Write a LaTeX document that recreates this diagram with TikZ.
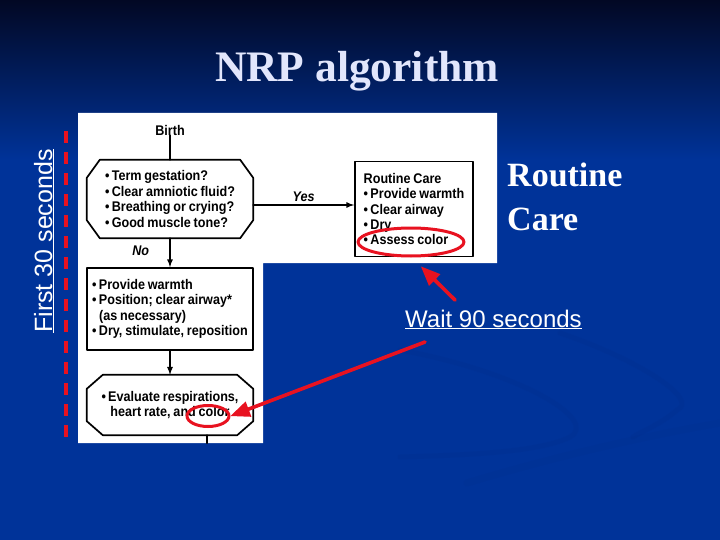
\documentclass[tikz,border=0pt]{standalone}
\usepackage{fontspec}
\setmainfont{Liberation Serif}
\newfontfamily\arialfont{Liberation Sans}
\newfontfamily\chartfont[FakeStretch=0.9,WordSpace=0.8]{Liberation Sans}
\usepackage{tikz}
\usetikzlibrary{shapes,arrows}
\usetikzlibrary{calc}
\definecolor{slideblue}{RGB}{0,51,153}
\definecolor{slidetop}{RGB}{2,8,36}
\definecolor{titlecol}{RGB}{226,230,252}
\definecolor{markred}{RGB}{232,18,32}
% outline with cut corners round a named node
\newcommand{\octoline}[3]{\draw[flow] ([xshift=#2]#1.north west) -- ([xshift=-#2]#1.north east) -- ([yshift=-#3]#1.north east) -- ([yshift=#3]#1.south east) -- ([xshift=-#2]#1.south east) -- ([xshift=#2]#1.south west) -- ([yshift=#3]#1.south west) -- ([yshift=-#3]#1.north west) -- cycle;}

\begin{document}
\begin{tikzpicture}[x=1pt,y=-1pt,line cap=round,line join=round,
	flow/.style={line width=1.7pt,black},
	chart/.style={font=\chartfont\bfseries\fontsize{14}{15.4}\selectfont,align=left,inner sep=0pt},
	boxed/.style={chart,draw,flow},
	ring/.style={ellipse,draw=markred,line width=3pt,inner sep=0pt},
	redline/.style={markred,line width=3.6pt},
	slidetext/.style={text=white,font=\arialfont\fontsize{24}{28}\selectfont,inner sep=0pt}]
	\useasboundingbox (0,0) rectangle (720,540);
	% slide background
	\fill[slideblue] (0,0) rectangle (720,540);
	\shade[top color=slidetop,bottom color=slideblue] (0,0) rectangle (720,160);
	\draw[slideblue!85!black,line width=5pt,opacity=0.15] (400,350) .. controls (520,372) and (600,420) .. (570,437) .. controls (540,452) and (470,455) .. (400,457);
	\draw[slideblue!85!black,line width=5pt,opacity=0.15] (560,333) .. controls (640,360) and (700,400) .. (677,410) .. controls (660,425) and (640,432) .. (633,437);
	\draw[slideblue!85!black,line width=7pt,opacity=0.12] (467,483) .. controls (560,455) and (650,435) .. (720,423);
	\node[text=titlecol,font=\bfseries\fontsize{43.5}{50}\selectfont,anchor=base] (title) at (357,82) {NRP algorithm};

	% white panel of the chart
	\fill[white] (78,113) -- (497,113) -- (497,263) -- (263,263) -- (263,443) -- (78,443) -- cycle;

	\node[chart] (birth) at (170,130) {Birth};
	\node[chart,minimum width=166pt,minimum height=78pt] (quest) at (170,199) {•\,Term gestation?\\ •\,Clear amniotic fluid?\\ •\,Breathing or crying?\\ •\,Good muscle tone?};
	\octoline{quest}{13}{18}
	\node[boxed,minimum width=118pt,minimum height=95pt] (care) at (414,209) {Routine Care\\ •\,Provide warmth\\ •\,Clear airway\\ •\,Dry\\ •\,Assess color};
	\node[boxed,minimum width=166pt,minimum height=82pt] (steps) at (170,309) {•\,Provide warmth\\ •\,Position; clear airway*\\ \hspace*{7pt}(as necessary)\\ •\,Dry, stimulate, reposition};
	\node[chart,align=center,minimum width=166pt,minimum height=60pt] (evalbox) at (170,405) {•\,Evaluate respirations,\\ heart rate, and color};
	\octoline{evalbox}{16}{14}

	\draw[flow] (birth) -- (quest);
	\draw[flow,-latex] ([yshift=-6]quest.east) -- ([yshift=-6]quest.east -| care.west) node[midway,above=3pt,chart] {\itshape Yes};
	\draw[flow,-latex] (quest) -- (steps) node[pos=0.45,left=20pt,chart] {\itshape No};
	\draw[flow,-latex] (steps) -- (evalbox);
	\draw[flow] ([xshift=37]evalbox.south) -- ++(0,8);

	% red marks
	\draw[markred,line width=4pt,dash pattern=on 12pt off 9pt,line cap=butt] (66,131) -- (66,441);
	\node[ring,minimum width=106pt,minimum height=28pt] (ring1) at (411,242) {};
	\node[ring,minimum width=42pt,minimum height=21pt] (ring2) at (208,416) {};

	\node[slidetext,rotate=90,anchor=base,font=\arialfont\fontsize{25}{28}\selectfont] (first) at (52,241) {\underline{First 30 seconds}};
	\node[text=white,font=\bfseries\fontsize{34}{43.3}\selectfont,align=left,anchor=base west,inner sep=0pt] (rc) at (507,230) {Routine\\ Care};
	\node[slidetext,anchor=base west] (wait) at (405,327) {\underline{Wait 90 seconds}};

	\coordinate (w1) at (455,300);
	\coordinate (w2) at (425,342);
	\draw[redline,-triangle 45] (w1) -- ($(ring1.south)+(10,9)$);
	\draw[redline,-triangle 45] (w2) -- (ring2.east);
\end{tikzpicture}
\end{document}
